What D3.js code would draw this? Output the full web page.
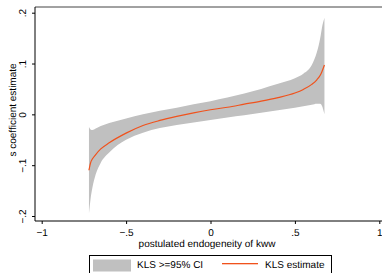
<!DOCTYPE html>
<html>
<head>
  <script src="https://d3js.org/d3.v7.min.js"></script>
  <style>
    body { margin: 0; background: #fff; }
    svg { text-rendering: geometricPrecision; }
    text { font-family: "Liberation Sans", Arial, sans-serif; fill: #000; }
  </style>
</head>
<body>
  <script>
    // postulated endogeneity grid and the estimate with its band
    var endog = [-0.72, -0.71, -0.70, -0.68, -0.65, -0.6, -0.5, -0.4, -0.3, -0.2, -0.1, 0,
                 0.1, 0.2, 0.3, 0.4, 0.5, 0.55, 0.6, 0.63, 0.65, 0.66, 0.675];
    var estimate = [-0.110, -0.095, -0.088, -0.079, -0.068, -0.056, -0.037, -0.022, -0.012, -0.004, 0.003, 0.009,
                    0.014, 0.020, 0.026, 0.033, 0.042, 0.049, 0.059, 0.068, 0.077, 0.084, 0.097];
    var ciUpper = [-0.025, -0.030, -0.031, -0.028, -0.023, -0.017, -0.008, 0.000, 0.007, 0.013, 0.020, 0.026,
                   0.033, 0.041, 0.050, 0.060, 0.071, 0.080, 0.097, 0.122, 0.150, 0.170, 0.190];
    var ciLower = [-0.195, -0.165, -0.145, -0.118, -0.095, -0.075, -0.050, -0.036, -0.027, -0.021, -0.016, -0.011,
                   -0.006, -0.002, 0.003, 0.008, 0.013, 0.016, 0.019, 0.021, 0.021, 0.017, 0.000];
    var xTicks = [-1, -0.5, 0, 0.5, 1];
    var xTickLabels = ["\u22121", "\u2212.5", "0", ".5", "1"];
    var yTicks = [-0.2, -0.1, 0, 0.1, 0.2];
    var yTickLabels = ["\u2212.2", "\u2212.1", "0", ".1", ".2"];

    var rows = endog.map(function(e, i) {
      return {x: e, est: estimate[i], lo: ciLower[i], hi: ciUpper[i]};
    });

    var svg = d3.select("body").append("svg")
      .attr("width", 382)
      .attr("height", 273);

    var plot = {left: 35, right: 384, top: 7, bottom: 221};
    var orange = "#f0521c";

    var x = d3.scaleLinear().domain([-1, 1]).range([41.7, 379.3]);
    var y = d3.scaleLinear().domain([-0.2, 0.2]).range([216, 12.7]);

    // confidence band
    var area = d3.area()
      .x(function(d) { return x(d.x); })
      .y0(function(d) { return y(d.lo); })
      .y1(function(d) { return y(d.hi); })
      .curve(d3.curveMonotoneX);

    svg.append("path")
      .datum(rows)
      .attr("d", area)
      .attr("fill", "#c0c0c0");

    // estimate line
    var line = d3.line()
      .x(function(d) { return x(d.x); })
      .y(function(d) { return y(d.est); })
      .curve(d3.curveMonotoneX);

    svg.append("path")
      .datum(rows)
      .attr("d", line)
      .attr("fill", "none")
      .attr("stroke", orange)
      .attr("stroke-width", 1.2);

    // plot frame
    svg.append("line")
      .attr("x1", plot.left).attr("x2", plot.right)
      .attr("y1", plot.top).attr("y2", plot.top)
      .attr("stroke", "#444").attr("stroke-width", 1);

    // x axis
    var xAxis = svg.append("g")
      .attr("transform", "translate(0," + plot.bottom + ")")
      .call(d3.axisBottom(x)
        .tickValues(xTicks)
        .tickFormat(function(d, i) { return xTickLabels[i]; })
        .tickSize(3)
        .tickPadding(5));
    xAxis.select(".domain").remove();
    xAxis.selectAll("text").attr("font-size", 10).style("font-family", "Liberation Sans, Arial, sans-serif");
    svg.append("line")
      .attr("x1", plot.left).attr("x2", plot.right)
      .attr("y1", plot.bottom).attr("y2", plot.bottom)
      .attr("stroke", "#000").attr("stroke-width", 1);

    // y axis with rotated labels
    var yAxis = svg.append("g")
      .attr("transform", "translate(" + plot.left + ",0)")
      .call(d3.axisLeft(y)
        .tickValues(yTicks)
        .tickFormat(function(d, i) { return yTickLabels[i]; })
        .tickSize(3));
    yAxis.select(".domain").remove();
    yAxis.selectAll("text")
      .attr("x", 0)
      .attr("dy", 0)
      .attr("text-anchor", "middle")
      .attr("transform", "translate(-9,0) rotate(-90)")
      .attr("font-size", 10)
      .style("fill", "#000")
      .style("font-family", "Liberation Sans, Arial, sans-serif");
    svg.append("line")
      .attr("x1", plot.left).attr("x2", plot.left)
      .attr("y1", plot.top).attr("y2", plot.bottom)
      .attr("stroke", "#000").attr("stroke-width", 1);

    // axis titles
    svg.append("text")
      .attr("x", 207)
      .attr("y", 247)
      .attr("text-anchor", "middle")
      .attr("font-size", 10)
      .text("postulated endogeneity of kww");

    svg.append("text")
      .attr("transform", "translate(15.5,110) rotate(-90)")
      .attr("text-anchor", "middle")
      .attr("font-size", 10)
      .text("s coefficient estimate");

    // legend
    var legend = svg.append("g");
    legend.append("rect")
      .attr("x", 89.5).attr("y", 255.5)
      .attr("width", 242).attr("height", 30)
      .attr("fill", "#fff")
      .attr("stroke", "#000").attr("stroke-width", 1);
    legend.append("rect")
      .attr("x", 93).attr("y", 259.5)
      .attr("width", 38).attr("height", 12)
      .attr("fill", "#c0c0c0");
    legend.append("text")
      .attr("x", 137).attr("y", 267.5)
      .attr("font-size", 10)
      .text("KLS >=95% CI");
    legend.append("rect")
      .attr("x", 222).attr("y", 263)
      .attr("width", 36).attr("height", 1.3)
      .attr("fill", orange);
    legend.append("text")
      .attr("x", 265).attr("y", 267.5)
      .attr("font-size", 10)
      .text("KLS estimate");
  </script>
</body>
</html>
